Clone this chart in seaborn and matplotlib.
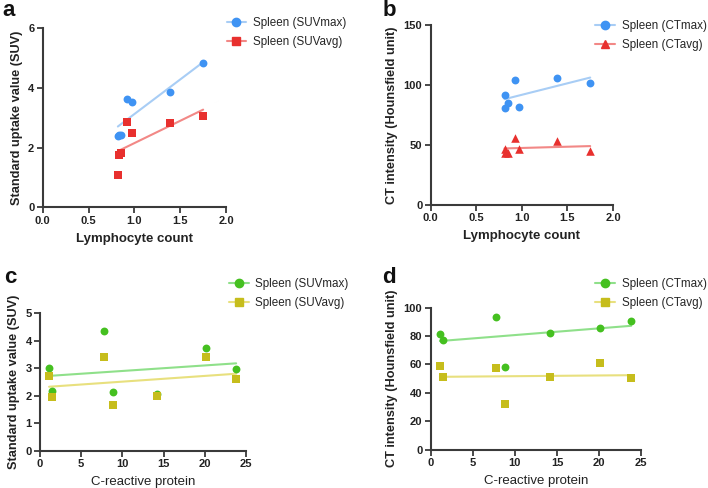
import numpy as np
import pandas as pd
import seaborn as sns
import matplotlib
matplotlib.use("Agg")
import matplotlib.pyplot as plt
from matplotlib.lines import Line2D

# ---- data ----
lymph = [0.82, 0.83, 0.85, 0.92, 0.97, 1.39, 1.75]
suvmax_a = [2.40, 2.44, 2.42, 3.63, 3.54, 3.85, 4.84]
suvavg_a = [1.07, 1.75, 1.81, 2.85, 2.48, 2.84, 3.07]

lymph_b = [0.81, 0.82, 0.845, 0.92, 0.97, 1.39, 1.75]
ctmax_b = [81, 92, 85, 104, 82, 106, 102]
ctavg_b = [46.4, 43, 43, 56, 46.4, 53.3, 45.3]

crp = [1.1, 1.5, 7.8, 8.85, 14.15, 20.15, 23.8]
suvmax_c = [3.00, 2.16, 4.35, 2.12, 2.07, 3.75, 2.98]
suvavg_c = [2.72, 1.95, 3.42, 1.67, 1.97, 3.40, 2.59]

ctmax_d = [81.2, 77, 93.7, 58, 81.9, 85.9, 90.8]
ctavg_d = [58.7, 51.4, 57.5, 32.4, 51.4, 60.8, 50.5]

BLUE, BLUE_L = "#3f93f3", "#a8cdf5"
RED, RED_L = "#e8302e", "#f28886"
GREEN, GREEN_L = "#45c020", "#8fe08a"
YEL, YEL_L = "#c6bd1c", "#e8e07e"

SIZES = {"o": 32, "s": 27, "^": 38}

sns.set_theme(style="white")
plt.rcParams["font.family"] = ["Liberation Sans", "DejaVu Sans"]

fig = plt.figure(figsize=(7.08, 4.88), dpi=100)
axA = fig.add_axes([0.0603, 0.575, 0.259, 0.367])
axB = fig.add_axes([0.6083, 0.580, 0.2575, 0.369])
axC = fig.add_axes([0.0565, 0.0764, 0.291, 0.282])
axD = fig.add_axes([0.6083, 0.0785, 0.2975, 0.291])


def panel(ax, x, y1, y2, c1, l1, m1, c2, l2, m2, names, xlim, xticks, xtl,
          ylim, yticks, xlabel, ylabel, xl_bold, leg_xy, letter, letter_xy):
    df = pd.DataFrame({"x": x, "y1": y1, "y2": y2})
    for col, c, l, m in (("y1", c1, l1, m1), ("y2", c2, l2, m2)):
        sns.regplot(data=df, x="x", y=col, ax=ax, ci=None, truncate=True,
                    marker=m,
                    scatter_kws={"color": c, "s": SIZES[m], "linewidths": 0,
                                 "clip_on": False, "zorder": 3, "alpha": 1},
                    line_kws={"color": l, "lw": 1.5, "zorder": 2})
    ax.set_xlim(*xlim)
    ax.set_ylim(*ylim)
    ax.set_xticks(xticks)
    ax.set_xticklabels(xtl)
    ax.set_yticks(yticks)
    for s in ("top", "right"):
        ax.spines[s].set_visible(False)
    for s in ("left", "bottom"):
        ax.spines[s].set_color("#3a3a3a")
        ax.spines[s].set_linewidth(1.5)
    ax.tick_params(axis="both", direction="out", length=4, width=1.3,
                   color="#3a3a3a", labelsize=8, pad=2, left=True, bottom=True,
                   labelcolor="#222222")
    for t in ax.get_xticklabels() + ax.get_yticklabels():
        t.set_fontweight("bold")
    ax.set_xlabel(xlabel, fontsize=9.5, fontweight="bold" if xl_bold else "normal",
                  color="#222222", labelpad=5)
    ax.set_ylabel(ylabel, fontsize=9.2, fontweight="bold", color="#222222",
                  labelpad=4)
    handles = [Line2D([], [], color=l1, lw=1.5, marker=m1, markersize=6,
                      markerfacecolor=c1, markeredgecolor=c1),
               Line2D([], [], color=l2, lw=1.5, marker=m2,
                      markersize=6 if m2 != "s" else 5.5,
                      markerfacecolor=c2, markeredgecolor=c2)]
    ax.legend(handles, names, loc="upper left", bbox_to_anchor=leg_xy,
              bbox_transform=fig.transFigure, frameon=False, fontsize=8.4,
              handlelength=1.7, handletextpad=0.55, labelspacing=0.6,
              borderaxespad=0, borderpad=0)
    fig.text(letter_xy[0], letter_xy[1], letter, fontsize=16, fontweight="bold",
             color="#111111", ha="left", va="top")


panel(axA, lymph, suvmax_a, suvavg_a, BLUE, BLUE_L, "o", RED, RED_L, "s",
      ["Spleen (SUVmax)", "Spleen (SUVavg)"], (0, 2), [0, 0.5, 1, 1.5, 2],
      ["0.0", "0.5", "1.0", "1.5", "2.0"], (0, 6), [0, 2, 4, 6],
      "Lymphocyte count", "Standard uptake value (SUV)", True,
      (0.32, 0.966), "a", (0.004, 1.0))

panel(axB, lymph_b, ctmax_b, ctavg_b, BLUE, BLUE_L, "o", RED, RED_L, "^",
      ["Spleen (CTmax)", "Spleen (CTavg)"], (0, 2), [0, 0.5, 1, 1.5, 2],
      ["0.0", "0.5", "1.0", "1.5", "2.0"], (0, 150), [0, 50, 100, 150],
      "Lymphocyte count", "CT intensity (Hounsfield unit)", True,
      (0.841, 0.958), "b", (0.54, 1.0))

panel(axC, crp, suvmax_c, suvavg_c, GREEN, GREEN_L, "o", YEL, YEL_L, "s",
      ["Spleen (SUVmax)", "Spleen (SUVavg)"], (0, 25), [0, 5, 10, 15, 20, 25],
      ["0", "5", "10", "15", "20", "25"], (0, 5), [0, 1, 2, 3, 4, 5],
      "C-reactive protein", "Standard uptake value (SUV)", False,
      (0.323, 0.43), "c", (0.006, 0.452))

panel(axD, crp, ctmax_d, ctavg_d, GREEN, GREEN_L, "o", YEL, YEL_L, "s",
      ["Spleen (CTmax)", "Spleen (CTavg)"], (0, 25), [0, 5, 10, 15, 20, 25],
      ["0", "5", "10", "15", "20", "25"], (0, 100), [0, 20, 40, 60, 80, 100],
      "C-reactive protein", "CT intensity (Hounsfield unit)", False,
      (0.841, 0.43), "d", (0.54, 0.452))

fig.savefig("out.png", dpi=100)
